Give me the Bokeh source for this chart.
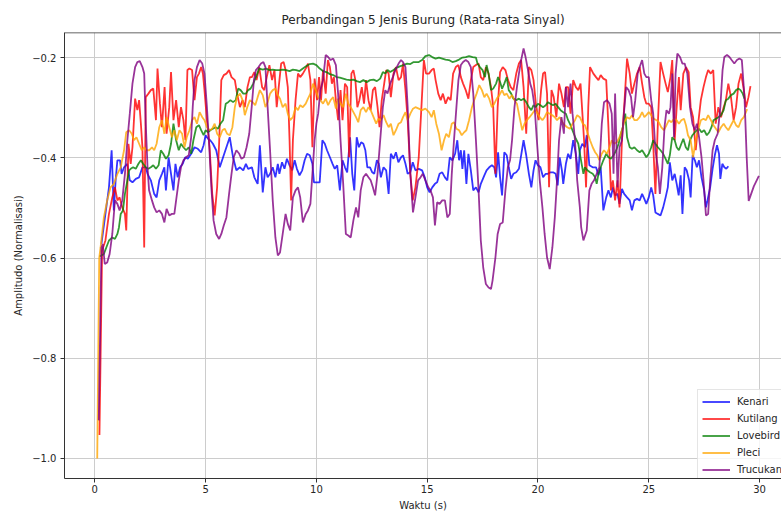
from bokeh.plotting import figure
from bokeh.models import Range1d, FixedTicker, CustomJSTickFormatter, Span, Legend, LegendItem
from bokeh.embed import file_html
from bokeh.resources import INLINE

title_text = "Perbandingan 5 Jenis Burung (Rata-rata Sinyal)"
x_label = "Waktu (s)"
y_label = "Amplitudo (Normalisasi)"
x_ticks = [0, 5, 10, 15, 20, 25, 30]
y_ticks = [-1.0, -0.8, -0.6, -0.4, -0.2]
names = ["Kenari", "Kutilang", "Lovebird", "Pleci", "Trucukan"]
colors = ["blue", "red", "green", "orange", "purple"]

kenari = [(0.30,-0.572),(0.48,-0.512),(0.64,-0.459),(0.76,-0.385),(0.86,-0.505),(0.94,-0.445),(1.02,-0.405),(1.14,-0.405),(1.21,-0.432),(1.32,-0.419),
(1.47,-0.412),(1.58,-0.445),(1.70,-0.449),(1.85,-0.442),(2.00,-0.439),(2.15,-0.419),(2.30,-0.419),(2.38,-0.432),(2.53,-0.445),(2.68,-0.472),
(2.79,-0.479),(2.91,-0.445),(3.03,-0.432),(3.14,-0.419),(3.21,-0.465),(3.33,-0.399),(3.44,-0.432),(3.55,-0.465),(3.64,-0.412),(3.74,-0.439),
(3.85,-0.419),(3.97,-0.412),(4.08,-0.399),(4.20,-0.402),(4.35,-0.392),(4.50,-0.379),(4.65,-0.382),(4.80,-0.389),(4.91,-0.375),(5.00,-0.355),
(5.11,-0.362),(5.21,-0.365),(5.33,-0.372),(5.48,-0.385),(5.64,-0.419),(5.79,-0.399),(5.94,-0.379),(6.09,-0.359),(6.24,-0.399),(6.39,-0.425),
(6.55,-0.419),(6.70,-0.425),(6.82,-0.412),(6.92,-0.422),
(7.09,-0.419),(7.20,-0.439),(7.35,-0.452),(7.45,-0.375),(7.58,-0.469),(7.70,-0.419),(7.80,-0.439),(7.91,-0.432),(8.03,-0.419),(8.15,-0.439),(8.26,-0.412),(8.33,-0.432),(8.45,-0.409),(8.56,-0.422),(8.67,-0.402),(8.79,-0.415),(8.91,-0.425),(9.02,-0.405),(9.12,-0.422),(9.24,-0.435),(9.36,-0.425),(9.47,-0.405),(9.58,-0.392),(9.70,-0.395),(9.82,-0.412),(9.89,-0.449),(10.00,-0.449),(10.15,-0.449),(10.27,-0.365),(10.38,-0.372),(10.48,-0.385),(10.61,-0.399),(10.73,-0.412),(10.83,-0.422),(10.94,-0.415),(11.06,-0.465),(11.18,-0.405),(11.29,-0.419),(11.39,-0.429),(11.52,-0.359),(11.62,-0.432),(11.71,-0.465),(11.82,-0.359),(11.92,-0.379),(12.02,-0.369),(12.12,-0.372),(12.21,-0.385),(12.30,-0.419),(12.42,-0.419),(12.52,-0.429),(12.61,-0.432),(12.73,-0.405),(12.82,-0.412),(12.91,-0.439),(13.03,-0.419),(13.15,-0.425),(13.26,-0.472),(13.36,-0.392),(13.48,-0.402),(13.59,-0.389),(13.70,-0.409),(13.82,-0.399),(13.91,-0.395),(14.02,-0.412),(14.12,-0.432),(14.24,-0.429),(14.35,-0.409),
(14.47,-0.425),(14.62,-0.422),(14.77,-0.425),(14.89,-0.439),(15.00,-0.459),(15.11,-0.469),(15.23,-0.459),(15.35,-0.452),(15.45,-0.449),(15.56,-0.432),(15.68,-0.429),(15.80,-0.439),(15.91,-0.445),(16.02,-0.399),(16.14,-0.405),(16.26,-0.392),(16.36,-0.365),(16.44,-0.405),(16.52,-0.385),(16.59,-0.422),(16.67,-0.385),(16.77,-0.452),(16.86,-0.392),(16.97,-0.425),(17.08,-0.465),(17.20,-0.459),(17.32,-0.469),(17.42,-0.452),(17.58,-0.435),(17.68,-0.425),(17.80,-0.419),(17.92,-0.415),(18.03,-0.419),(18.11,-0.439),(18.20,-0.389),(18.29,-0.439),(18.38,-0.475),(18.48,-0.389),(18.59,-0.395),(18.68,-0.419),(18.79,-0.442),(18.89,-0.432),(19.02,-0.429),(19.14,-0.422),(19.24,-0.395),(19.35,-0.365),(19.47,-0.395),(19.59,-0.432),(19.70,-0.459),(19.80,-0.425),(19.89,-0.405),(20.00,-0.415),(20.11,-0.419),(20.23,-0.439),(20.35,-0.432),(20.45,-0.432),(20.56,-0.429),(20.68,-0.429),(20.80,-0.432),(20.89,-0.455),(20.98,-0.399),(21.08,-0.425),(21.14,-0.452),(21.26,-0.412),(21.36,-0.392),(21.47,-0.402),(21.59,-0.365),(21.71,-0.392),(21.82,-0.432),(21.89,-0.385),(22.00,-0.372),(22.12,-0.379),
(22.20,-0.355),(22.32,-0.415),(22.47,-0.419),(22.62,-0.419),(22.73,-0.435),(22.83,-0.419),(22.95,-0.505),(23.08,-0.479),(23.18,-0.465),(23.29,-0.479),(23.38,-0.459),(23.48,-0.475),(23.59,-0.472),(23.68,-0.492),(23.79,-0.462),(23.89,-0.472),(24.02,-0.479),(24.14,-0.485),(24.24,-0.505),(24.35,-0.485),(24.47,-0.482),(24.59,-0.485),(24.70,-0.472),(24.80,-0.482),(24.89,-0.492),(25.00,-0.479),(25.11,-0.459),(25.20,-0.475),(25.30,-0.509),(25.41,-0.512),(25.53,-0.515),(25.65,-0.499),(25.76,-0.479),(25.86,-0.459),(25.95,-0.409),(26.06,-0.445),(26.17,-0.432),(26.26,-0.452),(26.35,-0.475),(26.44,-0.435),(26.52,-0.512),(26.62,-0.419),(26.71,-0.425),(26.82,-0.445),(26.89,-0.479),(26.98,-0.395),(27.08,-0.405),(27.17,-0.419),(27.27,-0.405),(27.38,-0.439),(27.50,-0.465),(27.58,-0.499),(27.65,-0.485),(27.77,-0.459),(27.88,-0.422),(27.98,-0.395),(28.08,-0.375),(28.17,-0.392),(28.23,-0.442),(28.32,-0.412),(28.41,-0.419),(28.50,-0.422),(28.59,-0.417)]

kutilang = [(0.21,-0.953),(0.33,-0.585),(0.48,-0.565),(0.64,-0.512),(0.79,-0.479),(0.91,-0.459),(1.02,-0.485),(1.12,-0.479),(1.24,-0.499),(1.36,-0.512),(1.42,-0.545),(1.52,-0.372),(1.62,-0.412),(1.70,-0.379),(1.82,-0.282),(1.92,-0.305),(2.00,-0.285),(2.08,-0.332),(2.15,-0.379),(2.23,-0.579),(2.30,-0.279),(2.42,-0.272),(2.53,-0.265),(2.64,-0.262),(2.76,-0.325),(2.83,-0.222),(2.94,-0.292),(3.03,-0.339),(3.15,-0.259),(3.24,-0.352),(3.36,-0.299),(3.44,-0.229),(3.55,-0.325),(3.67,-0.285),(3.79,-0.339),(3.89,-0.299),(4.00,-0.325),(4.09,-0.365),(4.18,-0.225),(4.27,-0.222),(4.39,-0.225),(4.50,-0.285),(4.61,-0.239),(4.70,-0.232),(4.80,-0.219),(4.88,-0.232),(4.95,-0.265),(5.06,-0.325),(5.18,-0.379),(5.30,-0.472),(5.41,-0.515),(5.52,-0.459),(5.61,-0.372),(5.71,-0.245),(5.82,-0.235),(5.94,-0.232),(6.06,-0.225),(6.17,-0.239),(6.32,-0.245),(6.42,-0.272),(6.55,-0.299),(6.67,-0.285),(6.77,-0.299),(6.89,-0.259),(7.00,-0.239),
(7.09,-0.239),(7.20,-0.229),(7.30,-0.245),(7.42,-0.219),(7.55,-0.259),(7.65,-0.265),(7.76,-0.239),(7.88,-0.215),(8.00,-0.245),(8.11,-0.225),(8.21,-0.299),(8.30,-0.259),(8.41,-0.212),(8.52,-0.209),(8.61,-0.225),(8.71,-0.259),(8.79,-0.365),(8.86,-0.485),(8.94,-0.365),(9.06,-0.285),(9.17,-0.232),(9.27,-0.239),(9.39,-0.232),(9.52,-0.222),(9.62,-0.212),(9.73,-0.245),(9.82,-0.379),(9.92,-0.242),(10.03,-0.285),(10.12,-0.239),(10.21,-0.285),(10.30,-0.225),(10.42,-0.272),(10.52,-0.205),(10.61,-0.219),(10.70,-0.252),(10.79,-0.239),(10.88,-0.285),(10.98,-0.325),(11.09,-0.265),(11.18,-0.325),(11.29,-0.252),(11.39,-0.259),(11.48,-0.399),(11.58,-0.232),(11.67,-0.225),(11.76,-0.245),(11.85,-0.299),(11.94,-0.285),(12.05,-0.259),(12.15,-0.292),(12.24,-0.245),(12.35,-0.285),(12.45,-0.305),(12.55,-0.265),(12.65,-0.259),(12.76,-0.299),(12.85,-0.339),(12.95,-0.285),(13.06,-0.252),(13.15,-0.225),(13.26,-0.232),(13.36,-0.279),(13.48,-0.232),(13.59,-0.219),(13.71,-0.245),(13.82,-0.239),(13.91,-0.212),(14.02,-0.265),(14.12,-0.325),(14.24,-0.432),(14.35,-0.485),(14.47,-0.459),
(14.62,-0.399),(14.74,-0.299),(14.85,-0.205),(14.95,-0.232),(15.08,-0.232),(15.20,-0.225),(15.30,-0.222),(15.38,-0.245),(15.50,-0.272),(15.61,-0.285),(15.71,-0.272),(15.83,-0.292),(15.95,-0.279),(16.06,-0.285),(16.17,-0.232),(16.29,-0.219),(16.41,-0.215),(16.52,-0.239),(16.62,-0.252),(16.74,-0.265),(16.86,-0.282),(16.97,-0.245),(17.08,-0.219),(17.20,-0.215),(17.32,-0.212),(17.42,-0.239),(17.53,-0.245),(17.65,-0.219),(17.77,-0.232),(17.88,-0.259),(17.98,-0.299),(18.08,-0.432),(18.18,-0.299),(18.29,-0.229),(18.41,-0.219),(18.53,-0.225),(18.65,-0.245),(18.77,-0.259),(18.89,-0.265),(19.02,-0.232),(19.14,-0.212),(19.24,-0.205),(19.35,-0.259),(19.47,-0.352),(19.59,-0.219),(19.70,-0.225),(19.80,-0.245),(19.92,-0.299),(20.03,-0.325),(20.14,-0.265),(20.23,-0.232),(20.32,-0.229),(20.41,-0.272),(20.50,-0.459),(20.61,-0.265),(20.71,-0.279),(20.83,-0.319),(20.95,-0.252),(21.06,-0.272),(21.17,-0.299),(21.26,-0.259),(21.36,-0.259),(21.47,-0.312),(21.59,-0.245),(21.71,-0.259),(21.82,-0.265),(21.92,-0.252),
(22.08,-0.365),(22.17,-0.459),(22.27,-0.299),(22.35,-0.219),(22.50,-0.232),(22.62,-0.239),(22.73,-0.245),(22.83,-0.235),(22.95,-0.242),(23.08,-0.245),(23.18,-0.339),(23.29,-0.465),(23.38,-0.445),(23.48,-0.485),(23.59,-0.445),(23.68,-0.499),(23.79,-0.365),(23.89,-0.299),(24.02,-0.202),(24.14,-0.232),(24.24,-0.272),(24.35,-0.252),(24.47,-0.232),(24.59,-0.219),(24.70,-0.252),(24.80,-0.279),(24.89,-0.292),(25.00,-0.292),(25.11,-0.299),(25.20,-0.372),(25.30,-0.472),(25.41,-0.332),(25.53,-0.209),(25.65,-0.232),(25.76,-0.252),(25.86,-0.269),(25.98,-0.239),(26.06,-0.205),(26.17,-0.365),(26.26,-0.299),(26.36,-0.239),(26.44,-0.305),(26.56,-0.232),(26.68,-0.219),(26.80,-0.229),(26.89,-0.299),(27.00,-0.319),(27.12,-0.385),(27.23,-0.332),(27.35,-0.285),(27.47,-0.259),(27.58,-0.239),(27.68,-0.225),(27.80,-0.232),(27.91,-0.225),(28.02,-0.332),(28.14,-0.299),(28.26,-0.319),(28.38,-0.299),(28.48,-0.285),(28.59,-0.252),(28.71,-0.279),(28.83,-0.325),(28.94,-0.299),(29.05,-0.252),(29.17,-0.232),(29.27,-0.259),(29.39,-0.299),(29.50,-0.279),(29.59,-0.257)]

lovebird = [(0.21,-0.597),(0.41,-0.592),(0.52,-0.579),(0.64,-0.565),(0.79,-0.559),(0.91,-0.562),(1.02,-0.552),(1.09,-0.539),(1.17,-0.512),(1.27,-0.505),(1.36,-0.472),(1.47,-0.445),(1.55,-0.425),(1.62,-0.422),(1.73,-0.419),(1.85,-0.422),(1.97,-0.412),(2.08,-0.405),(2.18,-0.412),(2.30,-0.419),(2.42,-0.422),(2.53,-0.419),(2.64,-0.415),(2.76,-0.422),(2.88,-0.415),(2.98,-0.385),(3.09,-0.392),(3.21,-0.402),(3.33,-0.395),(3.44,-0.372),(3.55,-0.332),(3.67,-0.365),(3.79,-0.385),(3.89,-0.372),(4.00,-0.379),(4.12,-0.385),(4.24,-0.379),(4.35,-0.392),(4.45,-0.365),(4.58,-0.339),(4.70,-0.335),(4.80,-0.345),(4.91,-0.355),(5.00,-0.345),(5.11,-0.349),(5.21,-0.345),(5.33,-0.342),(5.45,-0.339),(5.56,-0.342),(5.67,-0.332),(5.79,-0.325),(5.91,-0.292),(6.02,-0.289),(6.12,-0.285),(6.24,-0.289),(6.36,-0.285),(6.47,-0.262),(6.58,-0.265),(6.70,-0.272),(6.82,-0.272),(6.92,-0.265),(7.03,-0.262),(7.15,-0.252),(7.27,-0.239),
(7.42,-0.222),(7.58,-0.224),(7.73,-0.222),(7.88,-0.225),(8.03,-0.224),(8.18,-0.225),(8.33,-0.225),(8.48,-0.224),(8.64,-0.225),(8.79,-0.227),(8.94,-0.224),(9.09,-0.225),(9.24,-0.227),(9.39,-0.222),(9.55,-0.217),(9.70,-0.213),(9.85,-0.212),(10.00,-0.215),(10.15,-0.222),(10.30,-0.227),(10.45,-0.229),(10.61,-0.233),(10.76,-0.235),(10.91,-0.239),(11.06,-0.240),(11.21,-0.242),(11.36,-0.244),(11.52,-0.245),(11.67,-0.244),(11.82,-0.247),(11.97,-0.249),(12.12,-0.245),(12.27,-0.249),(12.42,-0.245),(12.58,-0.244),(12.73,-0.247),(12.88,-0.242),(13.00,-0.229),(13.11,-0.232),(13.21,-0.225),(13.33,-0.229),(13.48,-0.225),(13.64,-0.220),(13.79,-0.217),(13.94,-0.215),(14.09,-0.212),(14.24,-0.213),(14.39,-0.209),
(14.62,-0.209),(14.77,-0.205),(14.92,-0.197),(15.08,-0.195),(15.23,-0.199),(15.38,-0.202),(15.53,-0.200),(15.68,-0.202),(15.83,-0.204),(15.98,-0.205),(16.14,-0.209),(16.29,-0.207),(16.44,-0.204),(16.59,-0.200),(16.74,-0.199),(16.89,-0.197),(17.05,-0.199),(17.20,-0.200),(17.27,-0.212),(17.38,-0.219),(17.50,-0.225),(17.61,-0.239),(17.68,-0.215),(17.77,-0.232),(17.88,-0.265),(17.98,-0.262),(18.11,-0.252),(18.20,-0.239),(18.29,-0.249),(18.38,-0.262),(18.48,-0.252),(18.59,-0.239),(18.68,-0.265),(18.79,-0.272),(18.89,-0.282),(19.02,-0.285),(19.14,-0.282),(19.24,-0.285),(19.35,-0.282),(19.47,-0.289),(19.59,-0.299),(19.70,-0.305),(19.80,-0.295),(19.89,-0.299),(20.00,-0.292),(20.11,-0.295),(20.23,-0.299),(20.35,-0.295),(20.45,-0.289),(20.56,-0.292),(20.68,-0.295),(20.80,-0.292),(20.91,-0.299),(21.02,-0.305),(21.14,-0.309),(21.26,-0.312),(21.36,-0.325),(21.47,-0.335),(21.59,-0.349),(21.71,-0.362),(21.82,-0.372),(21.92,-0.399),(22.05,-0.432),
(22.12,-0.419),(22.23,-0.425),(22.35,-0.429),(22.47,-0.432),(22.58,-0.439),(22.65,-0.452),(22.73,-0.432),(22.83,-0.419),(22.95,-0.405),(23.08,-0.392),(23.18,-0.399),(23.29,-0.402),(23.41,-0.395),(23.53,-0.385),(23.64,-0.372),(23.74,-0.352),(23.83,-0.339),(23.94,-0.312),(24.02,-0.359),(24.14,-0.379),(24.24,-0.382),(24.35,-0.379),(24.47,-0.385),(24.59,-0.389),(24.70,-0.385),(24.80,-0.392),(24.89,-0.399),(25.00,-0.392),(25.11,-0.379),(25.20,-0.365),(25.30,-0.372),(25.41,-0.379),(25.53,-0.385),(25.65,-0.392),(25.76,-0.402),(25.86,-0.412),(25.95,-0.395),(26.06,-0.359),(26.17,-0.365),(26.26,-0.379),(26.36,-0.385),(26.47,-0.372),(26.56,-0.362),(26.67,-0.379),(26.77,-0.385),(26.86,-0.365),(26.97,-0.355),(27.08,-0.349),(27.17,-0.345),(27.27,-0.342),(27.38,-0.349),(27.50,-0.345),(27.62,-0.355),(27.73,-0.349),(27.83,-0.339),(27.92,-0.325),(28.03,-0.322),(28.14,-0.319),(28.26,-0.315),(28.38,-0.305),(28.48,-0.285),(28.59,-0.282),(28.71,-0.275),(28.83,-0.272),(28.94,-0.265),(29.05,-0.262),(29.14,-0.265),(29.24,-0.272),(29.32,-0.282)]

pleci = [(0.11,-1.000),(0.20,-0.600),(0.26,-0.579),(0.41,-0.519),(0.56,-0.485),(0.71,-0.459),(0.86,-0.452),(1.02,-0.432),(1.17,-0.419),(1.32,-0.385),(1.42,-0.349),(1.55,-0.345),(1.67,-0.352),(1.77,-0.365),(1.88,-0.359),(2.00,-0.372),(2.12,-0.385),(2.23,-0.379),(2.33,-0.385),(2.45,-0.385),(2.58,-0.379),(2.68,-0.385),(2.79,-0.372),(2.91,-0.339),(3.03,-0.325),(3.14,-0.352),(3.24,-0.319),(3.36,-0.339),(3.48,-0.359),(3.59,-0.345),(3.70,-0.365),(3.82,-0.345),(3.94,-0.352),(4.05,-0.379),(4.15,-0.359),(4.27,-0.345),(4.39,-0.325),(4.50,-0.319),(4.61,-0.332),(4.73,-0.309),(4.85,-0.319),(4.95,-0.325),(5.06,-0.339),(5.18,-0.345),(5.30,-0.342),(5.41,-0.332),(5.52,-0.352),(5.64,-0.359),(5.76,-0.345),(5.86,-0.342),(5.97,-0.352),(6.09,-0.355),(6.21,-0.339),(6.32,-0.299),(6.42,-0.279),(6.55,-0.272),(6.67,-0.285),(6.77,-0.315),(6.88,-0.299),(7.00,-0.285),
(7.12,-0.289),(7.24,-0.295),(7.35,-0.279),(7.45,-0.265),(7.58,-0.275),(7.70,-0.299),(7.80,-0.289),(7.91,-0.272),(8.03,-0.265),(8.15,-0.262),(8.26,-0.275),(8.36,-0.282),(8.48,-0.299),(8.61,-0.292),(8.71,-0.312),(8.82,-0.325),(8.94,-0.319),(9.06,-0.299),(9.17,-0.305),(9.27,-0.295),(9.39,-0.299),(9.52,-0.292),(9.62,-0.282),(9.73,-0.272),(9.85,-0.252),(9.97,-0.265),(10.08,-0.279),(10.18,-0.285),(10.30,-0.292),(10.42,-0.282),(10.53,-0.295),(10.64,-0.285),(10.76,-0.279),(10.88,-0.302),(10.98,-0.282),(11.09,-0.292),(11.21,-0.299),(11.33,-0.272),(11.44,-0.292),(11.55,-0.299),(11.67,-0.309),(11.79,-0.319),(11.89,-0.329),(12.00,-0.305),(12.12,-0.299),(12.24,-0.309),(12.35,-0.299),(12.45,-0.305),(12.58,-0.319),(12.70,-0.332),(12.80,-0.322),(12.91,-0.325),(13.03,-0.315),(13.15,-0.329),(13.26,-0.339),(13.36,-0.332),(13.48,-0.355),(13.59,-0.345),(13.71,-0.332),(13.82,-0.329),(13.91,-0.319),(14.02,-0.309),(14.12,-0.325),(14.24,-0.312),(14.36,-0.302),
(14.47,-0.299),(14.62,-0.302),(14.77,-0.305),(14.92,-0.302),(15.08,-0.309),(15.20,-0.319),(15.30,-0.305),(15.41,-0.332),(15.53,-0.352),(15.65,-0.385),(15.76,-0.365),(15.86,-0.352),(15.98,-0.359),(16.11,-0.332),(16.21,-0.329),(16.32,-0.342),(16.44,-0.345),(16.56,-0.355),(16.67,-0.349),(16.77,-0.345),(16.89,-0.325),(17.02,-0.299),(17.12,-0.285),(17.23,-0.272),(17.35,-0.255),(17.47,-0.265),(17.58,-0.279),(17.68,-0.272),(17.80,-0.282),(17.92,-0.299),(18.03,-0.292),(18.14,-0.282),(18.26,-0.275),(18.38,-0.265),(18.48,-0.275),(18.59,-0.272),(18.71,-0.282),(18.83,-0.275),(18.94,-0.285),(19.05,-0.292),(19.17,-0.319),(19.29,-0.345),(19.39,-0.332),(19.50,-0.325),(19.62,-0.319),(19.74,-0.312),(19.85,-0.305),(19.95,-0.309),(20.08,-0.319),(20.20,-0.325),(20.30,-0.319),(20.41,-0.309),(20.53,-0.312),(20.65,-0.315),(20.76,-0.319),(20.86,-0.325),(20.98,-0.319),(21.11,-0.329),(21.21,-0.335),(21.32,-0.339),(21.44,-0.342),(21.56,-0.332),(21.67,-0.325),(21.77,-0.315),(21.89,-0.319),(22.02,-0.332),(22.12,-0.335),
(22.23,-0.349),(22.35,-0.365),(22.47,-0.379),(22.58,-0.389),(22.68,-0.395),(22.77,-0.405),(22.88,-0.392),(22.98,-0.385),(23.11,-0.392),(23.23,-0.379),(23.33,-0.365),(23.44,-0.372),(23.56,-0.369),(23.68,-0.359),(23.79,-0.345),(23.89,-0.329),(24.02,-0.319),(24.14,-0.322),(24.24,-0.315),(24.35,-0.325),(24.47,-0.325),(24.59,-0.319),(24.70,-0.309),(24.80,-0.319),(24.89,-0.315),(25.00,-0.309),(25.11,-0.315),(25.23,-0.322),(25.35,-0.325),(25.45,-0.329),(25.56,-0.339),(25.68,-0.345),(25.80,-0.335),(25.91,-0.325),(26.02,-0.329),(26.14,-0.322),(26.26,-0.325),(26.36,-0.332),(26.47,-0.325),(26.59,-0.322),(26.68,-0.335),(26.77,-0.355),(26.89,-0.365),(27.00,-0.399),(27.12,-0.365),(27.23,-0.345),(27.35,-0.325),(27.47,-0.322),(27.58,-0.325),(27.68,-0.315),(27.80,-0.325),(27.92,-0.335),(28.03,-0.342),(28.14,-0.349),(28.26,-0.339),(28.38,-0.332),(28.48,-0.339),(28.59,-0.345),(28.71,-0.335),(28.83,-0.325),(28.94,-0.335),(29.05,-0.339),(29.17,-0.325),(29.29,-0.319),(29.44,-0.303)]

trucukan = [(0.18,-0.924),(0.30,-0.579),(0.36,-0.572),(0.45,-0.612),(0.56,-0.609),(0.67,-0.592),(0.79,-0.552),(0.91,-0.485),(1.02,-0.492),(1.12,-0.505),(1.24,-0.485),(1.36,-0.432),(1.47,-0.365),(1.58,-0.312),(1.70,-0.252),(1.82,-0.219),(1.92,-0.209),(2.03,-0.207),(2.15,-0.219),(2.23,-0.232),(2.30,-0.332),(2.38,-0.419),(2.45,-0.465),(2.58,-0.485),(2.68,-0.499),(2.79,-0.509),(2.91,-0.505),(3.03,-0.512),(3.14,-0.529),(3.24,-0.502),(3.36,-0.515),(3.48,-0.512),(3.59,-0.512),(3.67,-0.485),(3.79,-0.445),(3.89,-0.419),(4.00,-0.405),(4.12,-0.399),(4.24,-0.395),(4.35,-0.359),(4.42,-0.299),(4.50,-0.245),(4.61,-0.219),(4.73,-0.205),(4.85,-0.212),(4.95,-0.232),(5.06,-0.299),(5.15,-0.365),(5.26,-0.459),(5.36,-0.525),(5.48,-0.552),(5.61,-0.562),(5.71,-0.552),(5.82,-0.535),(5.94,-0.519),(6.06,-0.472),(6.17,-0.432),(6.27,-0.399),(6.39,-0.385),(6.52,-0.392),(6.62,-0.402),(6.73,-0.399),(6.85,-0.379),(6.97,-0.352),(7.08,-0.299),(7.18,-0.245),(7.27,-0.225),
(7.39,-0.219),(7.50,-0.212),(7.61,-0.209),(7.70,-0.219),(7.80,-0.299),(7.91,-0.385),(8.03,-0.485),(8.15,-0.559),(8.26,-0.595),(8.36,-0.589),(8.48,-0.552),(8.61,-0.512),(8.71,-0.532),(8.82,-0.545),(8.94,-0.479),(9.06,-0.465),(9.17,-0.459),(9.27,-0.479),(9.39,-0.529),(9.52,-0.512),(9.62,-0.505),(9.73,-0.492),(9.82,-0.432),(9.92,-0.365),(10.00,-0.332),(10.08,-0.312),(10.18,-0.265),(10.30,-0.245),(10.42,-0.195),(10.53,-0.199),(10.64,-0.205),(10.76,-0.202),(10.88,-0.215),(10.98,-0.272),(11.09,-0.365),(11.21,-0.452),(11.33,-0.552),(11.44,-0.555),(11.55,-0.559),(11.67,-0.525),(11.79,-0.499),(11.89,-0.519),(12.00,-0.465),(12.12,-0.439),(12.24,-0.432),(12.35,-0.439),(12.45,-0.445),(12.55,-0.459),(12.65,-0.475),(12.76,-0.432),(12.88,-0.365),(13.00,-0.299),(13.11,-0.265),(13.21,-0.272),(13.33,-0.252),(13.45,-0.239),(13.56,-0.225),(13.71,-0.212),(13.82,-0.205),(13.91,-0.209),(14.02,-0.219),(14.12,-0.299),(14.24,-0.432),(14.36,-0.509),
(14.47,-0.479),(14.59,-0.445),(14.70,-0.439),(14.80,-0.432),(14.92,-0.445),(15.05,-0.459),(15.15,-0.465),(15.26,-0.479),(15.35,-0.535),(15.45,-0.489),(15.56,-0.492),(15.68,-0.485),(15.80,-0.485),(15.91,-0.519),(16.02,-0.512),(16.11,-0.432),(16.21,-0.365),(16.32,-0.299),(16.41,-0.245),(16.52,-0.215),(16.62,-0.209),(16.74,-0.205),(16.86,-0.209),(16.97,-0.219),(17.08,-0.272),(17.20,-0.365),(17.32,-0.465),(17.42,-0.565),(17.53,-0.619),(17.65,-0.652),(17.77,-0.659),(17.88,-0.662),(17.95,-0.645),(18.08,-0.599),(18.18,-0.552),(18.29,-0.532),(18.41,-0.529),(18.53,-0.465),(18.64,-0.419),(18.74,-0.405),(18.83,-0.365),(18.94,-0.299),(19.05,-0.259),(19.14,-0.232),(19.24,-0.205),(19.35,-0.182),(19.44,-0.199),(19.55,-0.225),(19.65,-0.252),(19.74,-0.265),(19.85,-0.299),(19.95,-0.365),(20.08,-0.445),(20.20,-0.499),(20.30,-0.552),(20.41,-0.599),(20.53,-0.622),(20.65,-0.579),(20.76,-0.519),(20.86,-0.445),(20.95,-0.365),(21.06,-0.319),(21.17,-0.352),(21.26,-0.259),(21.36,-0.299),(21.47,-0.252),(21.56,-0.312),(21.67,-0.365),(21.77,-0.445),(21.89,-0.499),(21.95,-0.539),
(22.05,-0.565),(22.20,-0.545),(22.32,-0.465),(22.42,-0.452),(22.53,-0.445),(22.65,-0.432),(22.77,-0.419),(22.88,-0.332),(22.98,-0.289),(23.11,-0.285),(23.23,-0.292),(23.33,-0.312),(23.41,-0.432),(23.48,-0.272),(23.59,-0.459),(23.68,-0.379),(23.79,-0.365),(23.89,-0.305),(23.98,-0.259),(24.09,-0.265),(24.20,-0.279),(24.29,-0.319),(24.39,-0.285),(24.50,-0.232),(24.59,-0.219),(24.70,-0.205),(24.80,-0.232),(24.89,-0.239),(25.00,-0.239),(25.11,-0.285),(25.20,-0.312),(25.30,-0.385),(25.41,-0.419),(25.50,-0.472),(25.61,-0.419),(25.71,-0.339),(25.80,-0.305),(25.91,-0.312),(25.98,-0.299),(26.06,-0.232),(26.14,-0.359),(26.21,-0.232),(26.29,-0.192),(26.41,-0.199),(26.52,-0.212),(26.62,-0.212),(26.74,-0.232),(26.86,-0.299),(26.97,-0.332),(27.08,-0.345),(27.17,-0.332),(27.27,-0.359),(27.38,-0.399),(27.47,-0.445),(27.58,-0.515),(27.68,-0.512),(27.77,-0.445),(27.88,-0.385),(27.98,-0.365),(28.11,-0.352),(28.23,-0.299),(28.33,-0.225),(28.41,-0.199),(28.53,-0.195),(28.64,-0.199),(28.74,-0.205),(28.86,-0.212),(28.98,-0.205),(29.09,-0.202),(29.20,-0.205),(29.32,-0.279),(29.42,-0.400),(29.51,-0.486),(29.74,-0.457),(29.97,-0.436)]

series = [kenari, kutilang, lovebird, pleci, trucukan]

FONT = "DejaVu Sans"
TXT = "#262626"
SPINE = "#333333"

p = figure(width=781, height=513, output_backend="svg", toolbar_location=None,
           x_range=Range1d(-1.367, 30.99), y_range=Range1d(-1.040, -0.150),
           min_border_left=64, min_border_right=0, min_border_top=32, min_border_bottom=32,
           title=title_text)
p.background_fill_color = "white"
p.border_fill_color = "white"
p.outline_line_color = None

p.title.text_font = FONT
p.title.text_font_size = "12px"
p.title.text_font_style = "normal"
p.title.text_color = TXT
p.title.align = "center"
p.title.standoff = 12

p.xaxis.ticker = FixedTicker(ticks=x_ticks)
p.yaxis.ticker = FixedTicker(ticks=y_ticks)
p.yaxis.formatter = CustomJSTickFormatter(code="return tick.toFixed(1).replace('-', '\u2212');")
p.xaxis.axis_label = x_label
p.yaxis.axis_label = y_label
for ax in (p.xaxis, p.yaxis):
    ax.axis_line_color = SPINE
    ax.axis_line_width = 1
    ax.major_tick_line_color = SPINE
    ax.major_tick_out = 4
    ax.major_tick_in = 0
    ax.minor_tick_line_color = None
    ax.major_label_text_font = FONT
    ax.major_label_text_font_size = "10px"
    ax.major_label_text_color = TXT
    ax.axis_label_text_font = FONT
    ax.axis_label_text_font_size = "10px"
    ax.axis_label_text_font_style = "normal"
    ax.axis_label_text_color = TXT
p.xaxis.major_label_standoff = 2
p.xaxis.axis_label_standoff = 4
p.yaxis.major_label_standoff = 4
p.yaxis.axis_label_standoff = 5

p.grid.grid_line_color = "#cccccc"
p.grid.grid_line_width = 1

p.add_layout(Span(location=-0.150, dimension="width", line_color=SPINE, line_width=1.5))

items = []
for name, col, data in zip(names, colors, series):
    xs = [d[0] for d in data]
    ys = [d[1] for d in data]
    r = p.line(xs, ys, line_color=col, line_width=1.8, line_alpha=0.8)
    items.append(LegendItem(label=name, renderers=[r]))

legend = Legend(items=items, location=(633, -4))
legend.label_text_font = FONT
legend.label_text_font_size = "10px"
legend.label_text_color = TXT
legend.glyph_width = 28
legend.glyph_height = 15
legend.label_height = 15
legend.label_standoff = 7
legend.spacing = 2
legend.padding = 4
legend.margin = 0
legend.border_line_color = "#cccccc"
legend.background_fill_alpha = 0.8
p.add_layout(legend)

open("out.html", "w").write(file_html(p, INLINE))
